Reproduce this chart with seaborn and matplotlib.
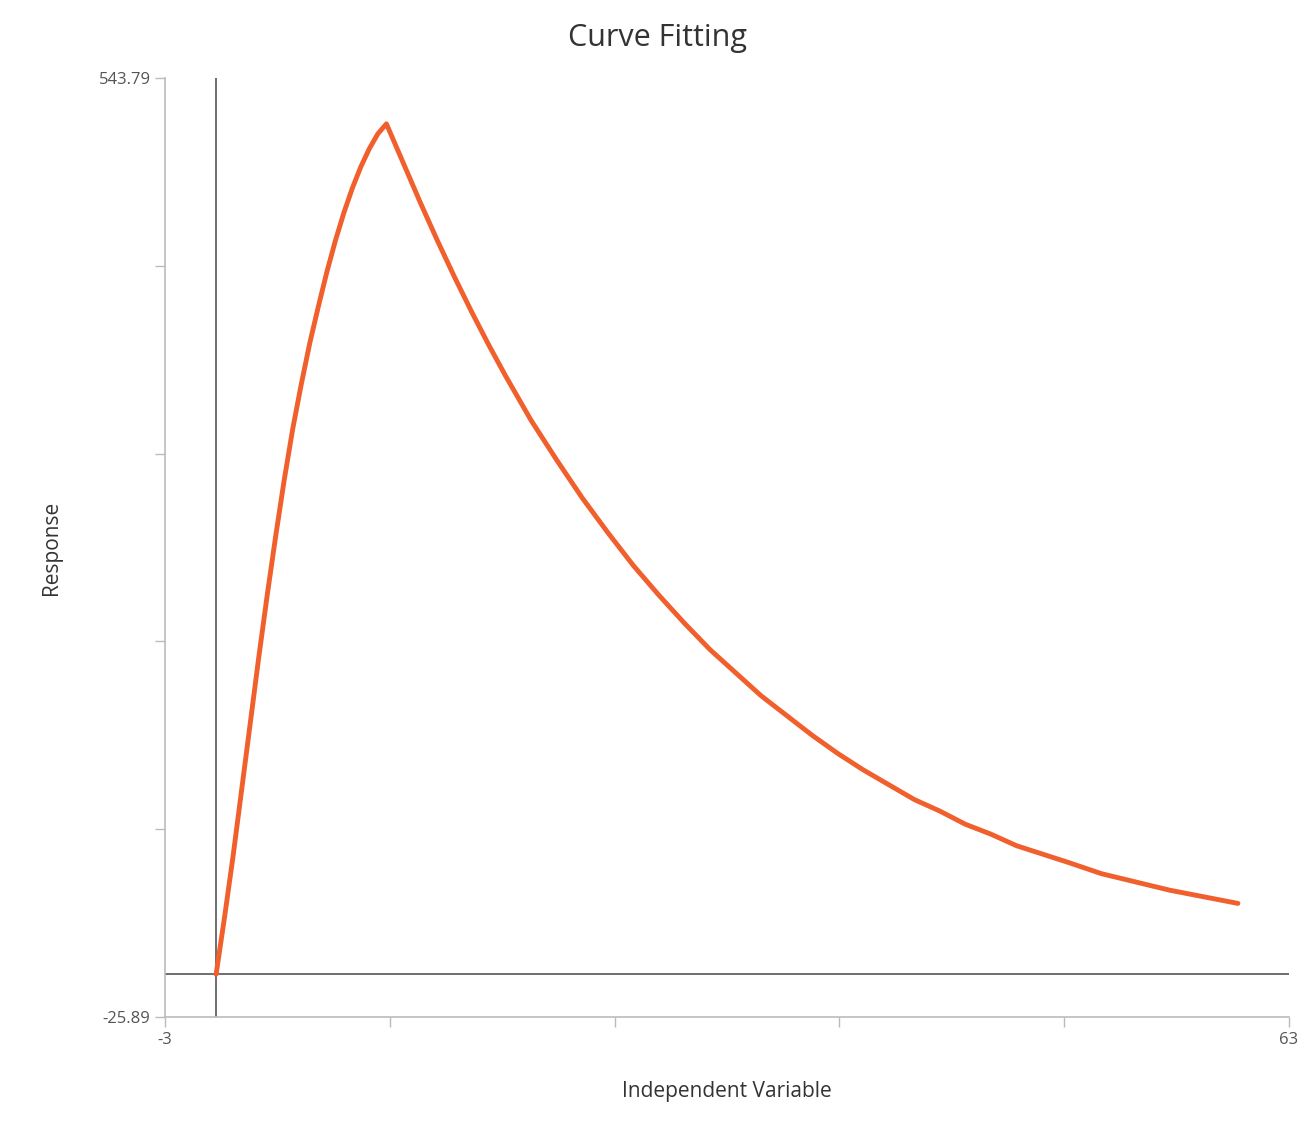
import matplotlib
matplotlib.use("Agg")
import matplotlib.pyplot as plt
import seaborn as sns
import numpy as np
import pandas as pd

# values
x_vals = [0, 0.5, 1, 1.5, 2, 2.5, 3, 3.5, 4, 4.5, 5, 5.5, 6, 6.5, 7, 7.5, 8, 8.5, 9, 9.5, 10,
          10.5, 11, 11.5, 12, 13, 14, 15, 16, 17, 18.5, 20, 21.5, 23, 24.5, 26, 27.5, 29,
          30.5, 32, 33.5, 35, 36.5, 38, 39.5, 41, 42.5, 44, 45.5, 47, 48.5, 50, 52, 54,
          56, 58, 60]
y_vals = [0, 35, 72, 112, 152, 192, 230, 266, 300, 331, 358, 383, 405, 426, 445, 462, 477,
          490, 501, 510, 516,
          504, 492, 480, 468, 445, 423, 402, 382, 363, 336, 312, 289, 268, 248, 230, 213, 197,
          183, 169, 157, 145, 134, 124, 115, 106, 99, 91, 85, 78, 73, 68, 61, 56, 51, 47, 43]

x_min, x_max = -3, 63
y_min, y_max = -25.89, 543.79

df = pd.DataFrame({"x": x_vals, "y": y_vals})

sns.set_style("white")
plt.rcParams['font.family'] = ['Open Sans', 'DejaVu Sans']

fig = plt.figure(figsize=(13.16, 11.36), dpi=100)
ax = fig.add_axes([0.1254, 0.1048, 0.8541, 0.8265])

ax.axhline(0, color="#555555", lw=1.2, zorder=1)
ax.axvline(0, color="#555555", lw=1.2, zorder=1)
sns.lineplot(data=df, x="x", y="y", color="#F05F2C", lw=3.5, ax=ax, zorder=3)

ax.set_xlim(x_min, x_max)
ax.set_ylim(y_min, y_max)
xt = np.linspace(x_min, x_max, 6)
yt = np.linspace(y_min, y_max, 6)
ax.set_xticks(xt)
ax.set_xticklabels(["-3", "", "", "", "", "63"])
ax.set_yticks(yt)
ax.set_yticklabels(["-25.89", "", "", "", "", "543.79"])
ax.tick_params(axis="both", length=7, width=1, color="#bbbbbb", labelcolor="#555555",
               labelsize=12, direction="out", bottom=True, left=True)

for s in ["top", "right"]:
    ax.spines[s].set_visible(False)
for s in ["left", "bottom"]:
    ax.spines[s].set_color("#bbbbbb")
    ax.spines[s].set_linewidth(1.2)

ax.set_xlabel("Independent Variable", fontsize=15, color="#333333", labelpad=24)
ax.set_ylabel("Response", fontsize=15, color="#333333", labelpad=26)
fig.suptitle("Curve Fitting", fontsize=22, color="#333333", y=0.98)

fig.savefig("out.png", dpi=100)
